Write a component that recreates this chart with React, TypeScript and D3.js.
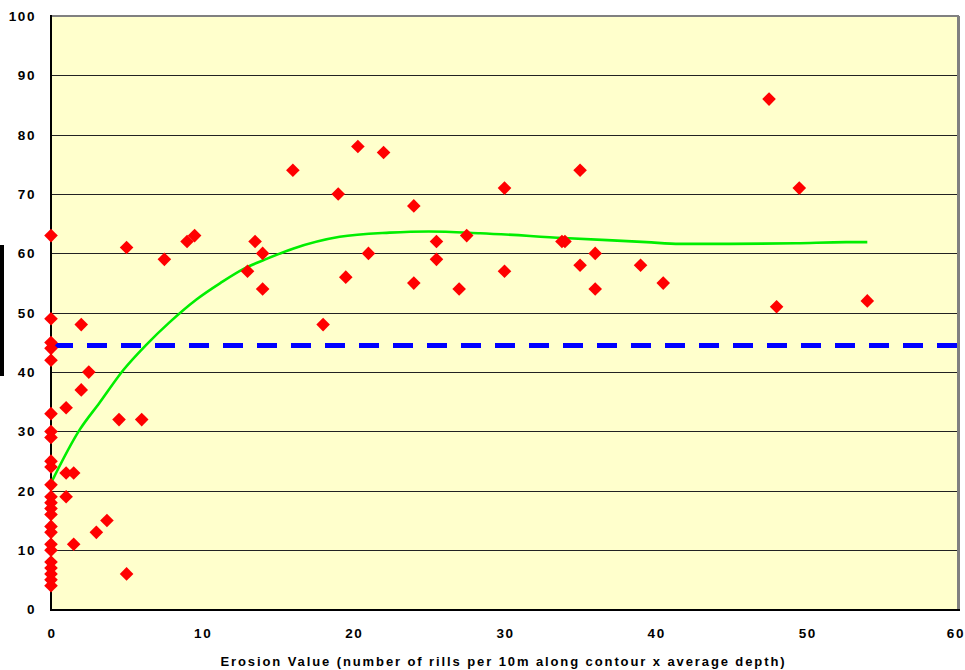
import React from "react";
import * as d3 from "d3";

const pointX: number[] = [
  0, 0, 0, 0, 0, 0, 0, 0, 0, 0, 0, 0, 0, 0, 0, 0, 0, 0, 0, 0, 0, 0, 0, 0,
  1, 2, 2, 2.5, 4.5, 6, 5, 7.5, 9, 9.5,
  1, 1.5, 1, 1.5, 3, 3.7, 5,
  13.5, 14, 13, 14, 16, 18, 19, 19.5, 20.3, 21, 22, 24, 24, 25.5, 25.5, 27, 27.5,
  30, 30, 35, 33.8, 34, 36, 35, 36, 39, 40.5,
  47.5, 49.5, 48, 54,
];
const pointY: number[] = [
  63, 49, 45, 44, 42, 33, 30, 29, 25, 24, 21, 19, 18, 17, 16, 14, 13, 11, 10, 8, 7, 6, 5, 4,
  34, 48, 37, 40, 32, 32, 61, 59, 62, 63,
  23, 23, 19, 11, 13, 15, 6,
  62, 60, 57, 54, 74, 48, 70, 56, 78, 60, 77, 68, 55, 62, 59, 54, 63,
  71, 57, 74, 62, 62, 60, 58, 54, 58, 55,
  86, 71, 51, 52,
];

const trendX: number[] = [0, 1.9, 3.2, 4.8, 6.3, 7.8, 9.6, 11.2, 12.9, 14, 16, 19.1, 22.4, 25, 28.4, 33.9, 39.4, 41.6, 44.9, 49.3, 52.6, 54];
const trendY: number[] = [21.3, 30.3, 34.8, 40.4, 44.6, 48.3, 52.2, 55, 57.6, 58.8, 60.8, 62.8, 63.5, 63.7, 63.4, 62.6, 61.9, 61.6, 61.6, 61.7, 61.9, 61.9];

const refLine = 44.5;
const xTicks: number[] = [0, 10, 20, 30, 40, 50, 60];
const yTicks: number[] = [0, 10, 20, 30, 40, 50, 60, 70, 80, 90, 100];
const xTitle = "Erosion Value (number of rills per 10m along contour x average depth)";

export default function App() {
  const W = 965, H = 670;
  const left = 51, right = 958, top = 16, bottom = 609.5;
  const x = d3.scaleLinear().domain([0, 60]).range([left, right]);
  const y = d3.scaleLinear().domain([0, 100]).range([bottom, top]);
  const line = d3
    .line<number>()
    .x((_, i) => x(trendX[i]))
    .y((d) => y(d))
    .curve(d3.curveMonotoneX);
  const diamond = (cx: number, cy: number, r: number) =>
    `M${cx},${cy - r}L${cx + r},${cy}L${cx},${cy + r}L${cx - r},${cy}Z`;
  const font = "'Liberation Sans', Arial, sans-serif";

  return (
    <div style={{ position: "fixed", left: 0, top: 0 }}>
      <svg width={W} height={H} style={{ display: "block", background: "#fff" }}>
        <rect x={left} y={top} width={right - left} height={bottom - top} fill="#FFFFCC" />
        {yTicks.filter((t) => t > 0 && t < 100).map((t) => (
          <line key={t} x1={left} x2={right} y1={Math.round(y(t)) + 0.5} y2={Math.round(y(t)) + 0.5} stroke="#222" strokeWidth={1} />
        ))}
        {/* borders */}
        <line x1={left} x2={right + 1} y1={top} y2={top} stroke="#808080" strokeWidth={2} />
        <line x1={right + 0.5} x2={right + 0.5} y1={top} y2={bottom + 1} stroke="#808080" strokeWidth={3} />
        <line x1={left - 1} x2={right + 2} y1={bottom + 0.5} y2={bottom + 0.5} stroke="#000" strokeWidth={2} />
        <line x1={left} x2={left} y1={top - 1} y2={bottom + 1} stroke="#000" strokeWidth={2} />
        {/* reference dashed line */}
        <line x1={left + 2} x2={right} y1={y(refLine)} y2={y(refLine)} stroke="#0000FF" strokeWidth={5} strokeDasharray="20 14" />
        {/* trend curve */}
        <path d={line(trendY) || ""} fill="none" stroke="#00EE00" strokeWidth={2.6} />
        {/* points */}
        {pointX.map((px, i) => (
          <path key={i} d={diamond(x(px), y(pointY[i]), 6.8)} fill="#FF0000" />
        ))}
        {/* y tick labels */}
        {yTicks.map((t) => (
          <text key={t} x={36} y={y(t)} dy="0.36em" textAnchor="end" fontFamily={font} fontWeight="bold" fontSize={13.5} letterSpacing={1.6} fill="#000">
            {t}
          </text>
        ))}
        {/* x tick labels */}
        {xTicks.map((t) =>
          t === 60 ? (
            <text key={t} x={965} y={633} dy="0.36em" textAnchor="end" fontFamily={font} fontWeight="bold" fontSize={13.5} letterSpacing={1.6} fill="#000">
              {t}
            </text>
          ) : (
            <text key={t} x={x(t) + 1} y={633} dy="0.36em" textAnchor="middle" fontFamily={font} fontWeight="bold" fontSize={13.5} letterSpacing={1.6} fill="#000">
              {t}
            </text>
          )
        )}
        <text x={(222 + 785) / 2} y={661} dy="0.36em" textAnchor="middle" fontFamily={font} fontWeight="bold" fontSize={13} letterSpacing={1.9} fill="#000">
          {xTitle}
        </text>
        {/* clipped y-axis title bar */}
        <rect x={0} y={245} width={4} height={131} fill="#000" />
      </svg>
    </div>
  );
}
